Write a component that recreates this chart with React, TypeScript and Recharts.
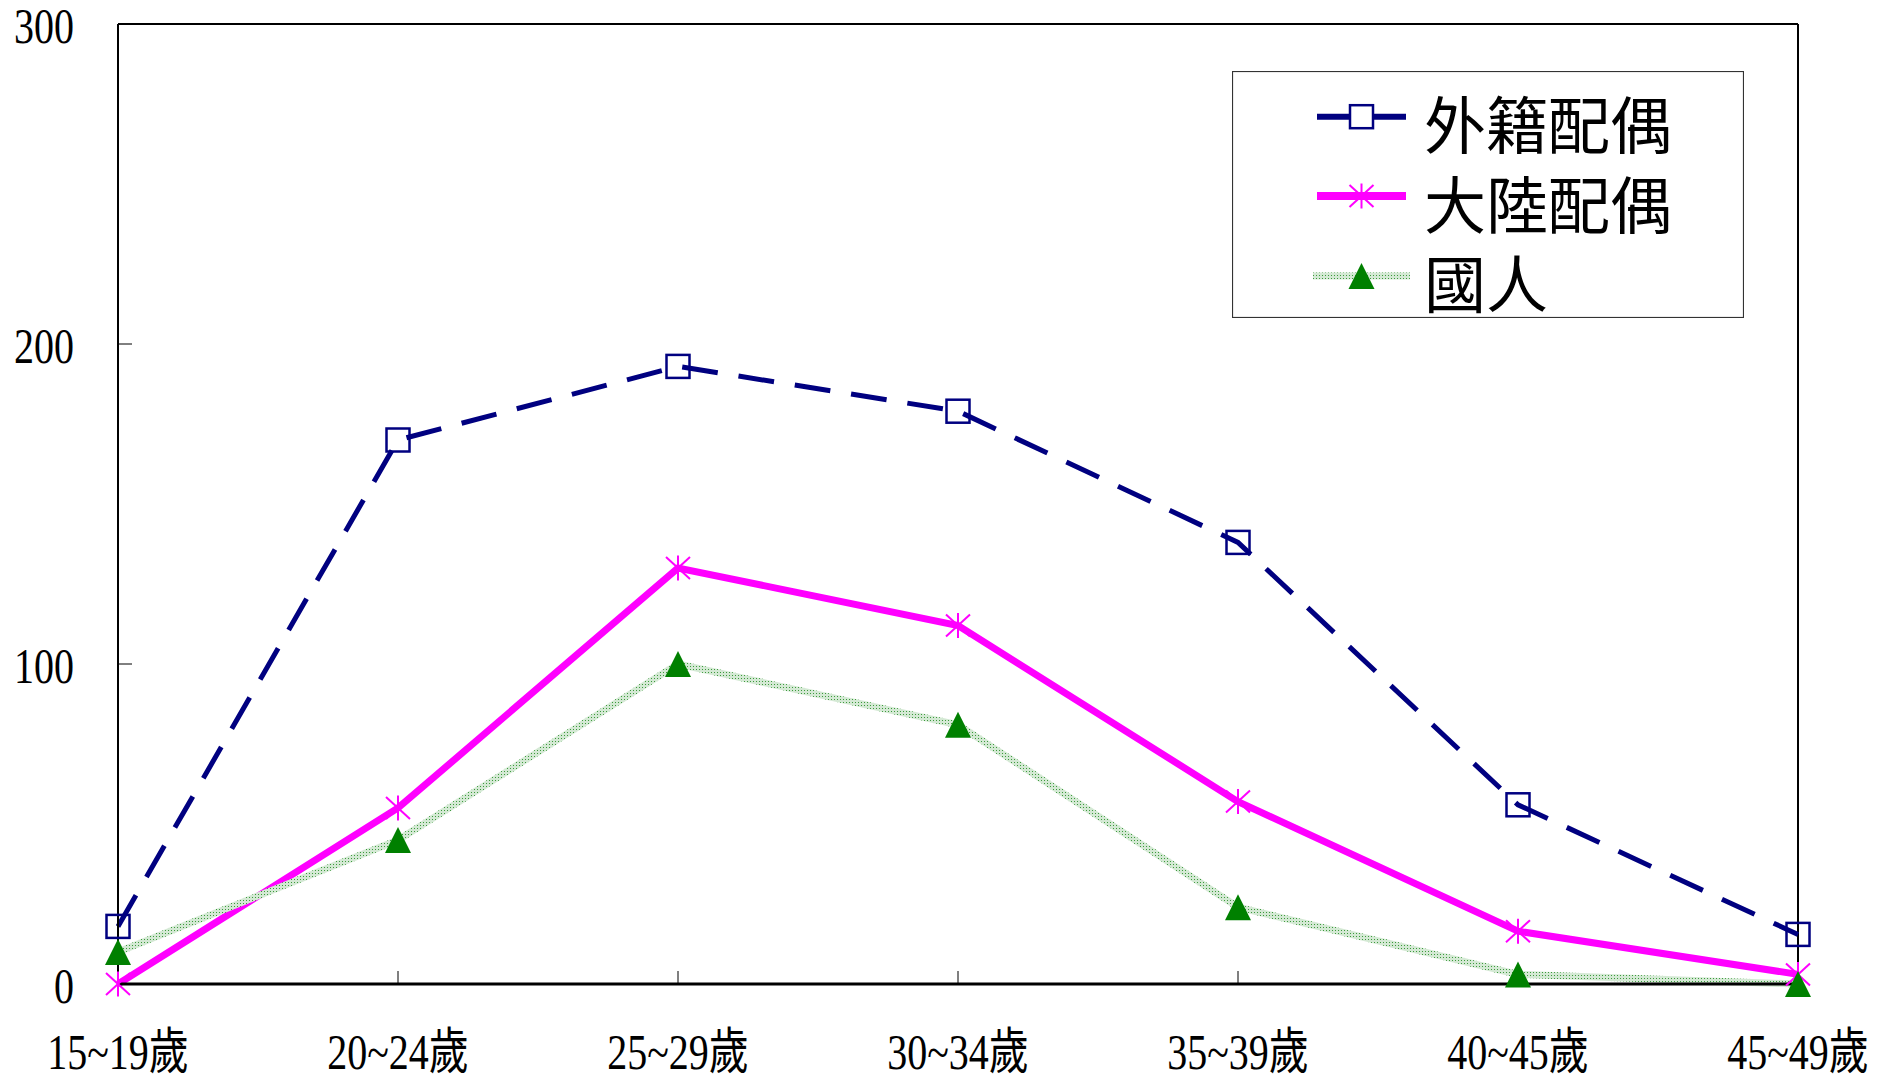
import React from 'react';
import { LineChart, Line, XAxis, YAxis, ReferenceLine, Legend } from 'recharts';

const categories = ['15~19歲', '20~24歲', '25~29歲', '30~34歲', '35~39歲', '40~45歲', '45~49歲'];
const foreignSpouse = [18, 170, 193, 179, 138, 56, 15.5];
const mainlandSpouse = [0, 55, 130, 112, 57, 16.5, 3];
const nationals = [10, 45, 100, 81, 24, 3, 0];
const yTicks = [0, 100, 200, 300];
const seriesNames = ['外籍配偶', '大陸配偶', '國人'];

const NAVY = '#000080';
const MAGENTA = '#FF00FF';
const GREEN = '#008000';
const SERIF = "'Liberation Serif', 'Times New Roman', 'Noto Sans CJK TC', serif";
const CJK = "'Noto Sans CJK TC', 'Noto Sans CJK SC', sans-serif";

const data = categories.map((c, i) => ({
  cat: c,
  foreign: foreignSpouse[i],
  mainland: mainlandSpouse[i],
  national: nationals[i],
}));

const SquareDot = (p: any) => {
  if (p.cx == null || p.cy == null) return <g key={`s${p.index}`} />;
  return (
    <rect key={`s${p.index}`} x={p.cx - 11.5} y={p.cy - 11.5} width={23} height={23}
      fill="none" stroke={NAVY} strokeWidth={2.5} />
  );
};

const StarShape = ({ cx, cy }: { cx: number; cy: number }) => (
  <g stroke={MAGENTA} strokeWidth={2}>
    <line x1={cx} y1={cy - 12.5} x2={cx} y2={cy + 12.5} />
    <line x1={cx - 12} y1={cy - 11} x2={cx + 12} y2={cy + 11} />
    <line x1={cx - 12} y1={cy + 11} x2={cx + 12} y2={cy - 11} />
  </g>
);

const StarDot = (p: any) => {
  if (p.cx == null || p.cy == null) return <g key={`a${p.index}`} />;
  return <g key={`a${p.index}`}><StarShape cx={p.cx} cy={p.cy} /></g>;
};

const TriShape = ({ cx, cy }: { cx: number; cy: number }) => (
  <polygon points={`${cx},${cy - 13} ${cx - 13},${cy + 13} ${cx + 13},${cy + 13}`} fill={GREEN} />
);

const TriDot = (p: any) => {
  if (p.cx == null || p.cy == null) return <g key={`t${p.index}`} />;
  return <g key={`t${p.index}`}><TriShape cx={p.cx} cy={p.cy} /></g>;
};

const GreenPattern = ({ id }: { id: string }) => (
  <pattern id={id} patternUnits="userSpaceOnUse" width={3} height={3}>
    <rect x={0} y={0} width={3} height={3} fill="#d4e9d4" />
    <rect x={0} y={0} width={1} height={1} fill="#3c9a3c" />
  </pattern>
);

const XTick = (props: any) => {
  const { x, y, payload } = props;
  return (
    <g transform={`translate(${x},${y})`}>
      <text transform="scale(0.8,1)" textAnchor="middle" fontSize={50} fontFamily={SERIF} fill="#000">
        {payload.value}
      </text>
    </g>
  );
};

const YTick = (props: any) => {
  const { x, y, payload } = props;
  return (
    <g transform={`translate(${x},${y + 19})`}>
      <text transform="scale(0.8,1)" textAnchor="end" fontSize={50} fontFamily={SERIF} fill="#000">
        {payload.value}
      </text>
    </g>
  );
};

const LegendBox = () => {
  const rows = [45.7, 125, 205];
  const textY = [51, 130.5, 210];
  return (
    <svg width={512} height={247} style={{ display: 'block' }}>
      <defs>
        <GreenPattern id="gpatLegend" />
      </defs>
      <rect x={0.5} y={0.5} width={511} height={246} fill="#fff" stroke="#333" strokeWidth={1.2} />
      <line x1={85} y1={rows[0]} x2={174} y2={rows[0]} stroke={NAVY} strokeWidth={6} strokeDasharray="36 20" />
      <rect x={118} y={rows[0] - 11.5} width={23} height={23} fill="#fff" stroke={NAVY} strokeWidth={2.5} />
      <line x1={85} y1={rows[1]} x2={174} y2={rows[1]} stroke={MAGENTA} strokeWidth={8} />
      <StarShape cx={129.5} cy={rows[1]} />
      <line x1={81} y1={rows[2]} x2={178} y2={rows[2]} stroke="url(#gpatLegend)" strokeWidth={7} />
      <TriShape cx={129.5} cy={rows[2]} />
      {seriesNames.map((n, i) => (
        <text key={n} x={192} y={textY[i]} dominantBaseline="central" fontSize={62}
          fontFamily={CJK} fill="#000">{n}</text>
      ))}
    </svg>
  );
};

export default function App() {
  return (
    <div style={{ position: 'absolute', left: 0, top: 0, width: 1877, height: 1076, background: '#fff' }}>
      <LineChart width={1877} height={1076} data={data}
        margin={{ top: 24, right: 79, bottom: 12, left: 0 }}>
        <defs>
          <GreenPattern id="gpat" />
        </defs>
        <XAxis dataKey="cat" interval={0} height={80} tickSize={-13} tickMargin={98}
          axisLine={{ stroke: '#000', strokeWidth: 3 }} tickLine={{ stroke: '#000', strokeWidth: 1 }}
          tick={<XTick />} />
        <YAxis domain={[0, 300]} ticks={yTicks} width={118} tickSize={-14} tickMargin={58}
          axisLine={{ stroke: '#000', strokeWidth: 2 }} tickLine={{ stroke: '#000', strokeWidth: 1 }}
          tick={<YTick />} />
        <ReferenceLine y={300} stroke="#000" strokeWidth={2} />
        <ReferenceLine x={categories[categories.length - 1]} stroke="#000" strokeWidth={2} />
        <Line dataKey="foreign" name={seriesNames[0]} stroke={NAVY} strokeWidth={5}
          strokeDasharray="36 21" dot={SquareDot} activeDot={false} isAnimationActive={false} />
        <Line dataKey="mainland" name={seriesNames[1]} stroke={MAGENTA} strokeWidth={7}
          dot={StarDot} activeDot={false} isAnimationActive={false} />
        <Line dataKey="national" name={seriesNames[2]} stroke="url(#gpat)" strokeWidth={7}
          dot={TriDot} activeDot={false} isAnimationActive={false} />
        <Legend layout="vertical" align="center" verticalAlign="middle" content={<LegendBox />}
          wrapperStyle={{ left: 1232, top: 71, width: 512, height: 247 }} />
      </LineChart>
    </div>
  );
}
